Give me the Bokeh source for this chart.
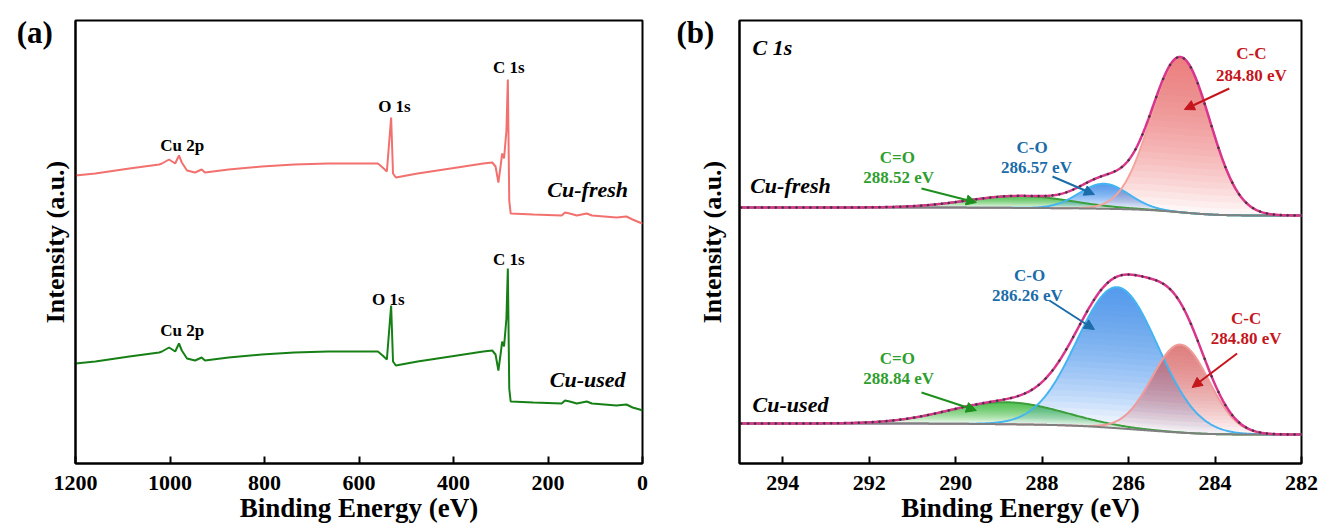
import numpy as np
from bokeh.plotting import figure
from bokeh.layouts import row
from bokeh.models import Range1d, FixedTicker, Label, Arrow, NormalHead
from bokeh.embed import file_html
from bokeh.resources import INLINE

# ---------------- Panel (a): XPS survey ----------------
survey_energy = [1200, 1158, 1086, 1023, 1017, 1002, 989, 981, 975, 964, 947, 933, 926,
                 876, 806, 737, 665, 596, 560, 550, 541, 532, 528, 522, 476, 406, 337,
                 318, 311, 305, 301, 297, 293, 288, 285, 282, 279, 231, 171, 164, 154,
                 139, 118, 107, 55, 34, 21, 6, 0]
fresh_survey = [288, 290, 295, 299, 300, 304, 300, 308, 301, 293, 291, 294, 291,
                294, 297, 299, 300, 300, 300, 296, 292, 346, 290, 286, 290, 295, 300,
                301, 297, 281, 295, 310, 305, 333, 384, 263, 250, 249, 248, 251, 250,
                248, 250, 248, 246, 247, 244, 241, 240]
used_survey = [100, 102, 107, 111, 112, 116, 112, 120, 113, 105, 103, 106, 103,
               106, 109, 111, 112, 112, 112, 108, 104, 158, 102, 98, 102, 107, 112,
               113, 109, 93, 107, 122, 117, 145, 195, 75, 62, 61, 60, 63, 62,
               60, 62, 60, 58, 59, 56, 54, 53]
survey_ticks = [1200, 1000, 800, 600, 400, 200, 0]

# ---------------- Panel (b): C 1s fits ----------------
c1s_ticks = [294, 292, 290, 288, 286, 284, 282]
component_names = ["C-C", "C-O", "C=O"]
fresh_centers = [284.80, 286.57, 288.52]
fresh_heights = [155, 25, 12]
fresh_fwhm = [1.6, 1.35, 2.8]
fresh_baseline_ends = [248, 256]   # low-BE end, high-BE end
used_centers = [284.80, 286.26, 288.84]
used_heights = [88, 141, 22]
used_fwhm = [1.55, 2.2, 3.1]
used_baseline_ends = [29, 40]

FONT = "Liberation Serif"


def make_fig(width, xr, ticks, left, right, label_standoff):
    p = figure(width=width, height=529, x_range=xr, y_range=Range1d(0, 443),
               output_backend="svg", toolbar_location=None,
               min_border_left=left, min_border_right=right,
               min_border_top=20, min_border_bottom=66)
    p.grid.visible = False
    p.background_fill_color = "white"
    p.border_fill_color = "white"
    p.outline_line_color = "black"
    p.outline_line_width = 2
    p.outline_line_alpha = 1
    ax = p.xaxis[0]
    ax.ticker = FixedTicker(ticks=ticks)
    ax.minor_tick_line_color = None
    ax.major_tick_in = 7
    ax.major_tick_out = 0
    ax.major_tick_line_width = 2
    ax.axis_line_width = 2
    ax.major_label_text_font = FONT
    ax.major_label_text_font_style = "bold"
    ax.major_label_text_font_size = "22px"
    ax.major_label_text_color = "black"
    ax.major_label_standoff = 12
    ax.axis_label = "Binding Energy (eV)"
    ax.axis_label_text_font = FONT
    ax.axis_label_text_font_style = "bold"
    ax.axis_label_text_font_size = "27px"
    ax.axis_label_text_color = "black"
    ax.axis_label_standoff = 0
    ay = p.yaxis[0]
    ay.ticker = FixedTicker(ticks=[])
    ay.minor_tick_line_color = None
    ay.major_tick_line_color = None
    ay.axis_line_width = 2
    ay.axis_label = "Intensity (a.u.)"
    ay.axis_label_text_font = FONT
    ay.axis_label_text_font_style = "bold"
    ay.axis_label_text_font_size = "26px"
    ay.axis_label_text_color = "black"
    ay.axis_label_standoff = label_standoff
    return p


def txt(p, x, y, s, color="black", size="17px", style="bold", align="center"):
    p.add_layout(Label(x=x, y=y, text=s, text_font=FONT, text_font_style=style,
                       text_font_size=size, text_color=color, text_align=align,
                       text_baseline="middle"))


def panel_tag(p, x, s):
    # panel letter sits left of the frame: put it in the left side panel (not clipped)
    p.add_layout(Label(x=x, y=431, text=s, text_font=FONT, text_font_style="bold",
                       text_font_size="31px", text_color="black", text_align="center",
                       text_baseline="middle"), "left")


def arrow(p, x0, y0, x1, y1, color):
    p.add_layout(Arrow(end=NormalHead(size=10, fill_color=color, line_color=color, line_width=1),
                       x_start=x0, y_start=y0, x_end=x1, y_end=y1,
                       line_color=color, line_width=2))


# ---------- Panel (a)
pa = make_fig(656, Range1d(1200, 0), survey_ticks, 75, 14, 6)
pa.line(survey_energy, fresh_survey, line_color="#F2716E", line_width=2)
pa.line(survey_energy, used_survey, line_color="#168016", line_width=2)

txt(pa, 974, 318, "Cu 2p")
txt(pa, 525, 357, "O 1s")
txt(pa, 283, 396, "C 1s")
txt(pa, 116, 274, "Cu-fresh", size="22px", style="bold italic")
txt(pa, 974, 133, "Cu 2p")
txt(pa, 538, 164, "O 1s")
txt(pa, 283, 204, "C 1s")
txt(pa, 116, 84, "Cu-used", size="22px", style="bold italic")
panel_tag(pa, 1286, "(a)")

# ---------- Panel (b)
pb = make_fig(664, Range1d(295, 282), c1s_ticks, 83, 19, 13)
grid = np.arange(282.0, 295.0001, 0.02)


def peak(center, height, fwhm):
    return height * np.exp(-4.0 * np.log(2.0) * ((grid - center) / fwhm) ** 2)


def grad_fill(p, base, comp, color, n=24, alpha=0.055):
    top = comp.max()
    for k in range(n):
        lvl = top * k / n
        idx = np.where(comp > lvl)[0]
        if len(idx) == 0:
            continue
        i0 = max(idx[0] - 1, 0)
        i1 = min(idx[-1] + 2, len(grid))
        c = comp[i0:i1]
        b = base[i0:i1]
        p.varea(x=grid[i0:i1], y1=b + np.minimum(c, lvl), y2=b + c,
                fill_color=color, fill_alpha=alpha)


def draw_spectrum(p, centers, heights, fwhms, ends, fills, lines):
    comps = [peak(c, h, w) for c, h, w in zip(centers, heights, fwhms)]
    total = np.sum(comps, axis=0)
    cum = np.cumsum(total)
    cum = cum / cum[-1]
    base = ends[0] + (ends[1] - ends[0]) * cum
    order = [2, 1, 0]
    for i in order:
        grad_fill(p, base, comps[i], fills[i])
    for i in order:
        p.line(grid, base + comps[i], line_color=lines[i], line_width=2)
    p.line(grid, base, line_color="#7F7F7F", line_width=2)
    env = base + total
    p.line(grid, env, line_color="#D8358C", line_width=2.5)
    p.scatter(grid[::8], env[::8], size=1.8, color="#333333", alpha=0.75)


draw_spectrum(pb, fresh_centers, fresh_heights, fresh_fwhm, fresh_baseline_ends,
              ["#F25656", "#1E88F0", "#22B022"], ["#F4A49C", "#45B4F2", "#3C9E3C"])
draw_spectrum(pb, used_centers, used_heights, used_fwhm, used_baseline_ends,
              ["#D85462", "#1E88F0", "#22B022"], ["#F09A9A", "#45B4F2", "#3C9E3C"])

CC, CO, CEO, CEOA = "#C5161D", "#1B6CA8", "#2E9E2E", "#1E8F1E"
# fresh annotations
txt(pb, 283.16, 410, component_names[0], CC)
txt(pb, 283.16, 388, "%.2f eV" % fresh_centers[0], CC)
arrow(pb, 283.67, 375, 284.71, 354, CC)
txt(pb, 288.23, 316, component_names[1], CO)
txt(pb, 288.13, 296, "%.2f eV" % fresh_centers[1], CO)
arrow(pb, 287.76, 287, 286.79, 269, CO)
txt(pb, 291.35, 306, component_names[2], CEO)
txt(pb, 291.32, 286, "%.2f eV" % fresh_centers[2], CEO)
arrow(pb, 290.79, 275, 289.52, 261, CEOA)
txt(pb, 293.82, 278, "Cu-fresh", size="22px", style="bold italic")
txt(pb, 294.24, 416, "C 1s", size="22px", style="bold italic")
# used annotations
txt(pb, 288.29, 188, component_names[1], CO)
txt(pb, 288.34, 168, "%.2f eV" % used_centers[1], CO)
arrow(pb, 287.83, 163, 286.79, 134, CO)
txt(pb, 283.28, 145, component_names[0], CC)
txt(pb, 283.28, 125, "%.2f eV" % used_centers[0], CC)
arrow(pb, 283.49, 110, 284.53, 76, CC)
txt(pb, 291.35, 105, component_names[2], CEO)
txt(pb, 291.32, 85, "%.2f eV" % used_centers[2], CEO)
arrow(pb, 290.79, 71, 289.52, 53, CEOA)
txt(pb, 293.82, 59, "Cu-used", size="22px", style="bold italic")
panel_tag(pb, 296.02, "(b)")

layout = row(pa, pb)
open("out.html", "w").write(file_html(layout, INLINE))
